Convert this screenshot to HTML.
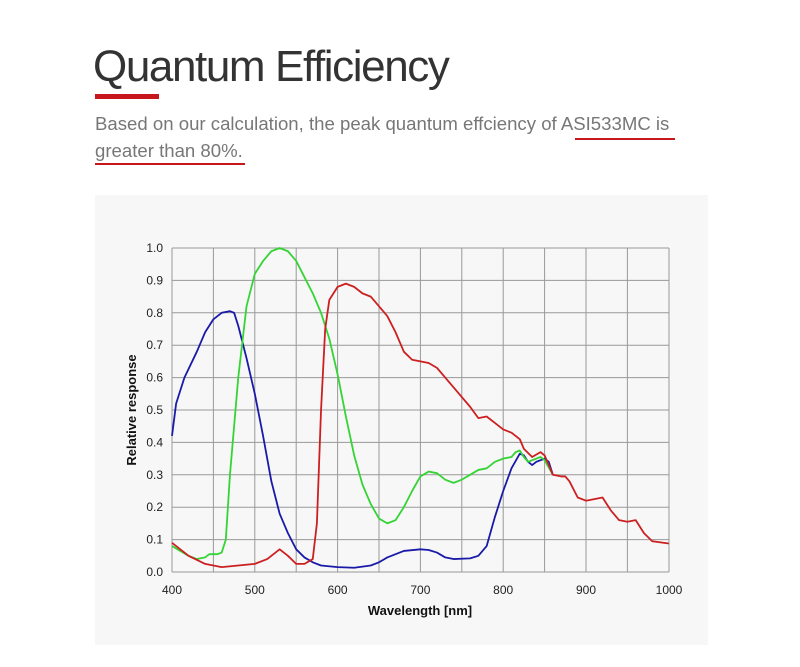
<!DOCTYPE html>
<html><head><meta charset="utf-8"><style>
body{margin:0;background:#fff;width:800px;height:667px;overflow:hidden;font-family:"Liberation Sans",sans-serif;position:relative}
.t{position:absolute;left:93px;top:42px;font-size:44px;color:#333;letter-spacing:-1.4px}
.bar{position:absolute;left:95px;top:94px;width:64px;height:5px;background:#c8161d}
.s{position:absolute;left:95px;font-size:18.6px;color:#777;white-space:nowrap}
.u{position:absolute;height:2px;background:#c8161d}
.panel{position:absolute;left:95px;top:195px;width:613px;height:450px;background:#f7f7f8}
</style></head><body>
<div class="t">Quantum Efficiency</div>
<div class="bar"></div>
<div class="s" style="top:113px">Based on our calculation, the peak quantum effciency of ASI533MC is</div>
<div class="s" style="top:140px">greater than 80%.</div>
<div class="u" style="left:575px;top:138px;width:100px"></div>
<div class="u" style="left:95px;top:163px;width:150px"></div>
<div class="panel"></div>
<svg width="800" height="667" style="position:absolute;left:0;top:0" font-family="Liberation Sans, sans-serif">
<g stroke="#999" stroke-width="1" fill="none">
<path d="M172 248H669M172 280.4H669M172 312.8H669M172 345.2H669M172 377.6H669M172 410H669M172 442.4H669M172 474.8H669M172 507.2H669M172 539.6H669M172 572H669"/>
<path d="M172 248V572M213.4 248V572M254.8 248V572M296.2 248V572M337.6 248V572M379 248V572M420.4 248V572M461.8 248V572M503.2 248V572M544.6 248V572M586 248V572M627.4 248V572M669 248V572"/>
</g>
<g font-size="12" fill="#222" text-anchor="end">
<text x="163" y="252">1.0</text><text x="163" y="284.4">0.9</text><text x="163" y="316.8">0.8</text><text x="163" y="349.2">0.7</text><text x="163" y="381.6">0.6</text><text x="163" y="414">0.5</text><text x="163" y="446.4">0.4</text><text x="163" y="478.8">0.3</text><text x="163" y="511.2">0.2</text><text x="163" y="543.6">0.1</text><text x="163" y="576">0.0</text>
</g>
<g font-size="12" fill="#222" text-anchor="middle">
<text x="172" y="594">400</text><text x="254.8" y="594">500</text><text x="337.6" y="594">600</text><text x="420.4" y="594">700</text><text x="503.2" y="594">800</text><text x="586" y="594">900</text><text x="669" y="594">1000</text>
</g>
<text x="420" y="615" font-size="13" font-weight="bold" text-anchor="middle" fill="#111">Wavelength [nm]</text>
<text transform="translate(136,410) rotate(-90)" font-size="13" font-weight="bold" text-anchor="middle" fill="#111">Relative response</text>
<g transform="translate(172,572) scale(0.828,-324)" fill="none" stroke-width="1.8" stroke-linejoin="round">
<polyline vector-effect="non-scaling-stroke" stroke="#1a1aa8" points="0,.42 5,.52 15,.6 30,.68 40,.74 50,.78 60,.80 70,.805 75,.80 80,.76 90,.66 100,.55 110,.42 120,.28 130,.18 140,.12 150,.07 160,.045 170,.03 180,.02 200,.015 220,.013 240,.02 250,.03 260,.045 280,.065 300,.07 310,.068 320,.06 330,.045 340,.04 360,.042 370,.05 380,.08 390,.17 400,.25 410,.32 420,.365 425,.36 430,.34 435,.33 440,.34 450,.35 455,.34 460,.30"/>
<polyline vector-effect="non-scaling-stroke" stroke="#35d435" points="0,.08 20,.05 30,.04 40,.045 45,.055 55,.055 60,.06 65,.1 70,.3 80,.6 90,.82 100,.92 110,.96 120,.99 130,1.0 140,.99 150,.96 160,.91 170,.86 180,.80 190,.72 200,.61 210,.48 220,.36 230,.27 240,.21 250,.165 260,.15 270,.16 280,.2 290,.25 300,.295 310,.31 320,.305 330,.285 340,.275 350,.285 360,.30 370,.315 380,.32 390,.34 400,.35 410,.355 415,.37 420,.375 425,.355 430,.34 440,.35 445,.355 450,.345 460,.30"/>
<polyline vector-effect="non-scaling-stroke" stroke="#cc2020" points="0,.09 20,.05 40,.025 60,.015 80,.02 100,.025 115,.04 130,.07 140,.05 150,.025 160,.025 170,.04 175,.15 180,.5 185,.75 190,.84 200,.88 210,.89 220,.88 230,.86 240,.85 250,.82 260,.79 270,.74 280,.68 290,.655 300,.65 310,.645 320,.63 330,.60 340,.57 350,.54 360,.51 370,.475 380,.48 390,.46 400,.44 410,.43 420,.41 425,.38 435,.355 445,.37 450,.36 460,.30 470,.295 475,.295 480,.28 490,.23 500,.22 510,.225 520,.23 530,.19 540,.16 550,.155 560,.16 570,.12 580,.095 600,.088"/>
</g>
</svg>
</body></html>
